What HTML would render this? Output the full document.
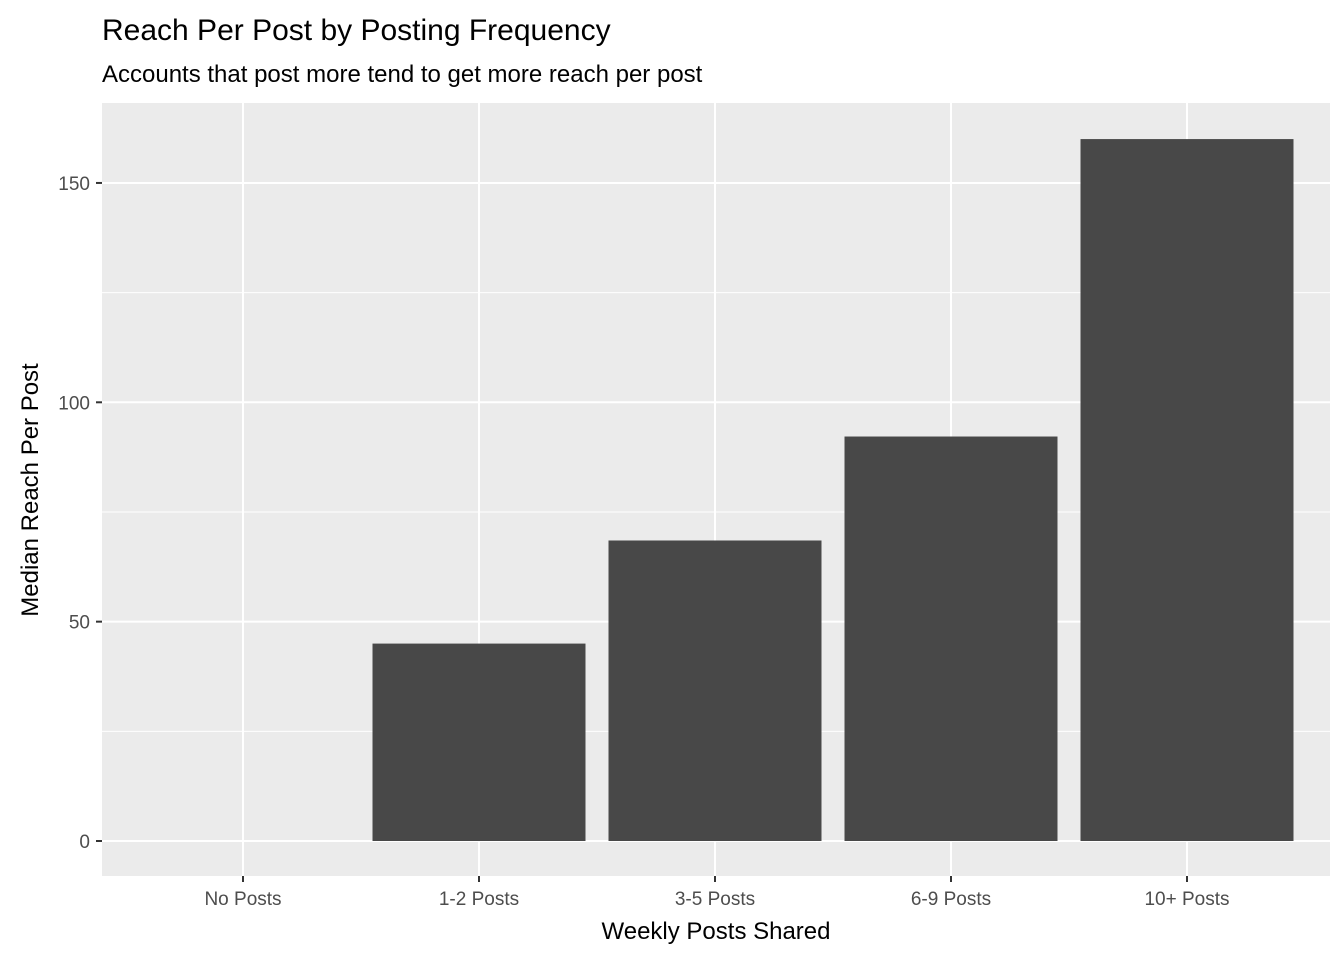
<!DOCTYPE html>
<html><head><meta charset="utf-8"><style>
body{margin:0;background:#fff;}
svg{display:block;font-family:"Liberation Sans",Arial,sans-serif;}
</style></head><body>
<svg id="chart" width="1344" height="960">
<text x="102" y="40" font-size="30" fill="#000">Reach Per Post by Posting Frequency</text>
<text x="102" y="82" font-size="24" fill="#000">Accounts that post more tend to get more reach per post</text>
<rect x="102" y="103" width="1228" height="773" fill="#ebebeb"/>
<g id="grid"></g><g id="bars"></g><g id="axes"></g>
<text x="716" y="939" font-size="24" text-anchor="middle" fill="#000">Weekly Posts Shared</text>
<text transform="translate(38,490) rotate(-90)" font-size="24" text-anchor="middle" fill="#000">Median Reach Per Post</text>
</svg>
<script>
const categories=["No Posts","1-2 Posts","3-5 Posts","6-9 Posts","10+ Posts"];
const values=[0,45,68.5,92.2,160];
const yTicks=[0,50,100,150];
const yMinor=[25,75,125];
const NS="http://www.w3.org/2000/svg";
function y(v){return 841-v*4.387;}
function x(i){return 243+i*236;}
const bw=213;
function mk(tag,attrs,parent){const e=document.createElementNS(NS,tag);for(const k in attrs)e.setAttribute(k,attrs[k]);parent.appendChild(e);return e;}
const grid=document.getElementById('grid'),bars=document.getElementById('bars'),axes=document.getElementById('axes');
yMinor.forEach(v=>{const l=mk('line',{x1:102,x2:1330,y1:y(v),y2:y(v),stroke:'#fff','stroke-width':1},grid);

});
yTicks.forEach(v=>{const l=mk('line',{x1:102,x2:1330,y1:y(v),y2:y(v),stroke:'#fff','stroke-width':2},grid);


const t=mk('line',{x1:96,x2:102,y1:y(v),y2:y(v),stroke:'#333','stroke-width':2},axes);


const tx=mk('text',{x:90,y:y(v)+7,'font-size':19,'text-anchor':'end',fill:'#4d4d4d'},axes);tx.textContent=v;

});
categories.forEach((c,i)=>{const l=mk('line',{x1:x(i),x2:x(i),y1:103,y2:876,stroke:'#fff','stroke-width':2},grid);


const r=mk('rect',{x:x(i)-bw/2,y:y(values[i]),width:bw,height:y(0)-y(values[i]),fill:'#484848'},bars);


const t=mk('line',{x1:x(i),x2:x(i),y1:876,y2:882,stroke:'#333','stroke-width':2},axes);


const tx=mk('text',{x:x(i),y:905,'font-size':19,'text-anchor':'middle',fill:'#4d4d4d'},axes);tx.textContent=c;

});
</script>
</body></html>
